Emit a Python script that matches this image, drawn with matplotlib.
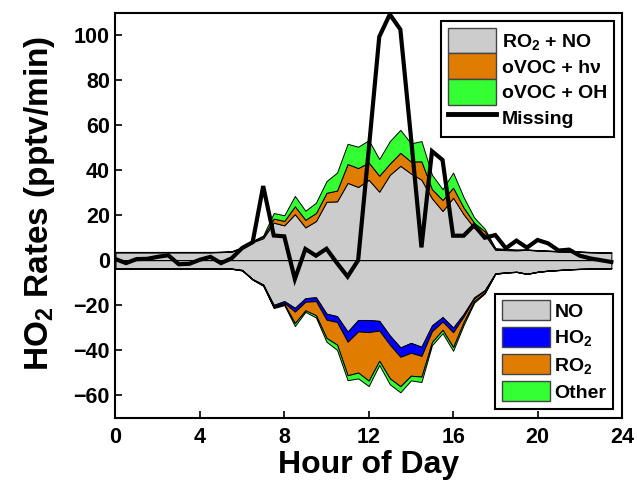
import matplotlib
matplotlib.use('Agg')
import matplotlib.pyplot as plt
import numpy as np
from matplotlib.patches import Patch
from matplotlib.lines import Line2D

# Half-hour bins of the day
hours = np.arange(48) * 0.5

# HO2 production terms (pptv/min)
ro2_no = [3.5, 3.5, 3.5, 3.5, 3.5, 3.5, 3.5, 3.5, 3.5, 3.5, 3.6, 3.8,
          5.4, 8.0, 9.8, 16.7, 15.5, 20.5, 14.6, 17.4, 26.0, 26.2, 34.4, 32.6,
          35.8, 30.5, 38.0, 42.0, 38.6, 35.8, 27.5, 21.9, 27.8, 20.4, 14.4, 11.4,
          4.6, 4.5, 4.4, 4.6, 4.3, 4.1, 3.9, 3.8, 3.7, 3.5, 3.4, 3.3]
ovoc_hv = [0.1, 0.1, 0.1, 0.1, 0.1, 0.1, 0.1, 0.1, 0.1, 0.1, 0.1, 0.1,
           0.2, 0.3, 0.7, 1.8, 2.0, 3.5, 3.4, 3.6, 4.0, 4.8, 8.4, 8.4,
           7.7, 7.1, 5.0, 5.8, 5.3, 8.2, 4.1, 4.9, 4.5, 3.0, 2.2, 1.5,
           0.4, 0.2, 0.2, 0.1, 0.1, 0.1, 0.1, 0.1, 0.1, 0.1, 0.1, 0.1]
ovoc_oh = [0.1, 0.1, 0.1, 0.1, 0.1, 0.1, 0.1, 0.1, 0.1, 0.1, 0.1, 0.1,
           0.2, 0.3, 0.5, 2.5, 2.5, 4.6, 4.0, 4.6, 5.2, 8.0, 9.0, 9.5,
           9.9, 7.4, 10.0, 10.2, 8.1, 9.0, 6.4, 4.8, 6.7, 4.6, 2.4, 1.1,
           0.4, 0.3, 0.1, 0.1, 0.1, 0.1, 0.1, 0.1, 0.1, 0.1, 0.1, 0.1]

# HO2 loss terms (pptv/min, magnitudes)
loss_no = [3.6, 3.6, 3.6, 3.6, 3.6, 3.6, 3.6, 3.6, 3.6, 3.6, 3.6, 3.7,
           4.3, 8.4, 10.8, 19.9, 18.2, 21.2, 16.9, 16.5, 23.8, 24.9, 31.8, 26.6,
           26.6, 27.0, 33.5, 38.8, 36.8, 38.5, 29.0, 25.3, 30.0, 23.9, 16.5, 13.3,
           5.8, 5.4, 5.1, 6.0, 5.1, 4.6, 4.3, 4.0, 3.8, 3.7, 3.6, 3.5]
loss_ho2 = [0.05, 0.05, 0.05, 0.05, 0.05, 0.05, 0.05, 0.05, 0.05, 0.05, 0.05, 0.05,
            0.1, 0.1, 0.2, 0.6, 0.8, 1.7, 1.6, 1.7, 2.7, 2.6, 4.5, 5.1,
            5.4, 4.3, 4.1, 4.2, 4.4, 4.1, 2.6, 2.0, 2.1, 1.1, 0.5, 0.3,
            0.1, 0.05, 0.05, 0.05, 0.05, 0.05, 0.05, 0.05, 0.05, 0.05, 0.05, 0.05]
loss_ro2 = [0.05, 0.05, 0.05, 0.05, 0.05, 0.05, 0.05, 0.05, 0.05, 0.05, 0.05, 0.05,
            0.1, 0.1, 0.2, 0.5, 0.5, 5.1, 3.8, 6.3, 8.1, 10.1, 14.9, 18.3,
            21.6, 13.5, 15.0, 13.1, 10.2, 9.2, 4.8, 3.7, 6.6, 2.5, 1.2, 0.8,
            0.1, 0.05, 0.05, 0.05, 0.05, 0.05, 0.05, 0.05, 0.05, 0.05, 0.05, 0.05]
loss_other = [0.05, 0.05, 0.05, 0.05, 0.05, 0.05, 0.05, 0.05, 0.05, 0.05, 0.05, 0.05,
              0.1, 0.1, 0.2, 0.3, 0.5, 1.3, 0.7, 1.0, 1.7, 2.3, 2.2, 2.6,
              2.4, 1.8, 2.6, 2.7, 2.1, 2.4, 1.4, 1.5, 1.6, 1.3, 0.7, 0.4,
              0.1, 0.05, 0.05, 0.05, 0.05, 0.05, 0.05, 0.05, 0.05, 0.05, 0.05, 0.05]

# Missing HO2 production
missing = [0.5, -1.3, 0.5, 0.6, 1.5, 2.2, -1.8, -1.6, 0.2, 1.5, -1.3, 0.8,
           5.4, 8.0, 33.0, 11.0, 10.6, -8.4, 5.0, 2.0, 5.1, -1.3, -7.3, 0.0,
           49.0, 99.4, 109.4, 102.7, 55.0, 5.7, 48.5, 44.6, 10.9, 10.9, 15.6, 10.0,
           11.2, 5.3, 8.7, 5.6, 9.0, 7.5, 4.3, 4.7, 2.0, 0.8, 0.0, -0.8]

prod_labels = ['RO$_2$ + NO', 'oVOC + h\u03bd', 'oVOC + OH']
loss_labels = ['NO', 'HO$_2$', 'RO$_2$', 'Other']
missing_label = 'Missing'

GRAY = '#cccccc'
ORANGE = '#e07c00'
GREEN = '#33ff33'
BLUE = '#0000ff'

plt.rcParams['font.family'] = ['Liberation Sans', 'DejaVu Sans']
plt.rcParams['font.weight'] = 'bold'
plt.rcParams['mathtext.fontset'] = 'custom'
plt.rcParams['mathtext.rm'] = 'Liberation Sans:bold'
plt.rcParams['mathtext.bf'] = 'Liberation Sans:bold'
plt.rcParams['mathtext.it'] = 'Liberation Sans:bold'
plt.rcParams['mathtext.default'] = 'bf'

fig = plt.figure(figsize=(6.37, 4.8), dpi=100)
ax = fig.add_axes([0.1813, 0.1302, 0.795, 0.8427])

pos = np.cumsum(np.array([ro2_no, ovoc_hv, ovoc_oh]), axis=0)
neg = -np.cumsum(np.array([loss_no, loss_ho2, loss_ro2, loss_other]), axis=0)

pos_colors = [GRAY, ORANGE, GREEN]
neg_colors = [GRAY, BLUE, ORANGE, GREEN]

base = np.zeros(len(hours))
for top, c in zip(pos, pos_colors):
    ax.fill_between(hours, base, top, facecolor=c, edgecolor='k', linewidth=0.7, zorder=2)
    base = top
base = np.zeros(len(hours))
for bot, c in zip(neg, neg_colors):
    ax.fill_between(hours, base, bot, facecolor=c, edgecolor='k', linewidth=0.7, zorder=2)
    base = bot

ax.plot([hours[0], hours[-1]], [0, 0], color='k', lw=0.7, zorder=3)
ax.plot(hours, missing, color='k', lw=3.0, zorder=4, solid_joinstyle='miter')

ax.set_xlim(0, 24)
ax.set_ylim(-70, 110)
ax.set_xticks(np.arange(0, 25, 4))
ax.set_yticks(np.arange(-60, 101, 20))
ax.set_yticklabels([str(v).replace('-', '\u2212') for v in range(-60, 101, 20)])
ax.tick_params(direction='in', length=5, width=1.2, labelsize=15.5)
ax.tick_params(axis='x', pad=7)
ax.tick_params(axis='y', pad=4)
for s in ax.spines.values():
    s.set_linewidth(1.5)

ax.set_xlabel('Hour of Day', fontsize=23, fontweight='bold', labelpad=1)
ax.set_ylabel('HO$_2$ Rates (pptv/min)', fontsize=24, fontweight='bold')
ax.yaxis.set_label_coords(-0.115, 0.53)

h1 = [Patch(facecolor=c, edgecolor='#444444', linewidth=1) for c in pos_colors]
h1.append(Line2D([], [], color='k', lw=3.5))
leg1 = ax.legend(h1, prod_labels + [missing_label], loc='upper right', fontsize=14,
                 frameon=True, fancybox=False, edgecolor='k', framealpha=1,
                 handlelength=2.5, handleheight=1.66, labelspacing=0.0,
                 handletextpad=0.3, borderpad=0.35, borderaxespad=0.4)
leg1.get_frame().set_linewidth(1.5)
leg1.set_zorder(10)
ax.add_artist(leg1)

h2 = [Patch(facecolor=c, edgecolor='#444444', linewidth=1) for c in neg_colors]
leg2 = ax.legend(h2, loss_labels, loc='lower right', fontsize=14,
                 frameon=True, fancybox=False, edgecolor='k', framealpha=1,
                 handlelength=2.5, handleheight=1.2, labelspacing=0.3,
                 handletextpad=0.2, borderpad=0.35, borderaxespad=0.45)
leg2.get_frame().set_linewidth(1.5)
leg2.set_zorder(10)

fig.savefig('out.png', dpi=100)
